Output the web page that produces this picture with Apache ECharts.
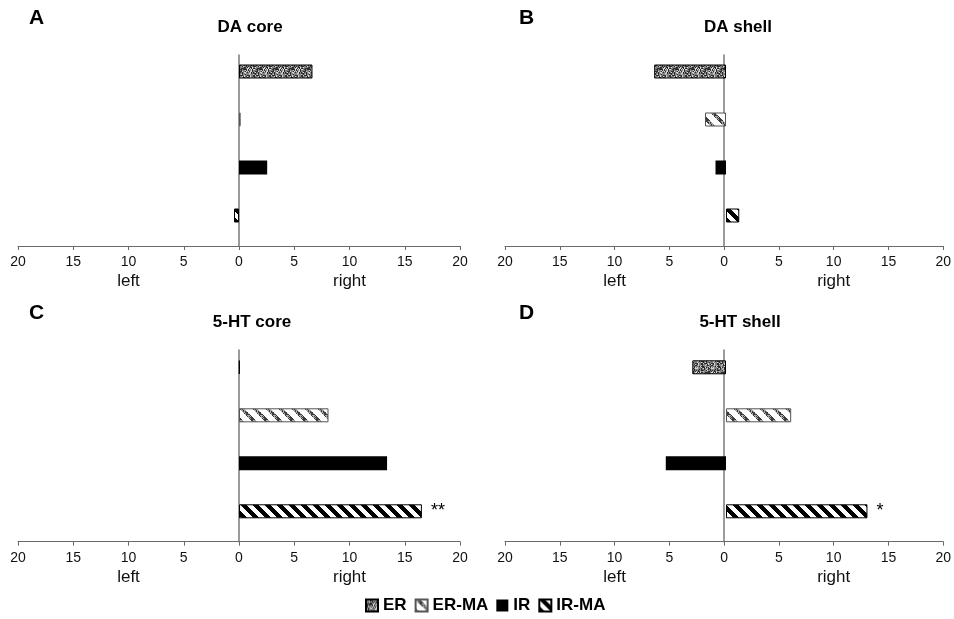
<!DOCTYPE html>
<html><head><meta charset="utf-8">
<script src="https://cdn.jsdelivr.net/npm/echarts@6/dist/echarts.min.js"></script>
<style>html,body{margin:0;padding:0;background:#fff}#c{width:954px;height:619px}</style>
</head><body><div id="c"></div>
<script>
const categories = ['ER', 'ER-MA', 'IR', 'IR-MA'];
const panelTitles = ['DA core', 'DA shell', '5-HT core', '5-HT shell'];
const panelLetters = ['A', 'B', 'C', 'D'];
const daCore = [6.65, 0.15, 2.55, -0.45];
const daShell = [-6.5, -1.9, -0.95, 1.2];
const htCore = [0.06, 8.1, 13.4, 16.55];
const htShell = [-3.05, 5.9, -5.45, 12.8];
const significance = [['', '', '', ''], ['', '', '', ''], ['', '', '', '**'], ['', '', '', '*']];
const axisMin = -20, axisMax = 20, axisStep = 5;
const sideLabels = { '-10': 'left', '10': 'right' };
const panelValues = [daCore, daShell, htCore, htShell];

function hash(x, y) {
  let h = Math.imul(x + 17, 374761393) ^ Math.imul(y + 31, 668265263);
  h = Math.imul(h ^ (h >>> 13), 1274126177);
  return ((h ^ (h >>> 16)) >>> 0) % 100;
}
function makePattern(size, fn) {
  const c = document.createElement('canvas');
  c.width = c.height = size;
  const ctx = c.getContext('2d');
  const img = ctx.createImageData(size, size);
  for (let y = 0; y < size; y++) for (let x = 0; x < size; x++) {
    const v = fn(x, y), i = (y * size + x) * 4;
    img.data[i] = img.data[i + 1] = img.data[i + 2] = v; img.data[i + 3] = 255;
  }
  ctx.putImageData(img, 0, 0);
  return c;
}
const stipple = makePattern(16, (x, y) => { const h = hash(x, y); return h < 35 ? 45 : (h < 75 ? 130 : 210); });
const hatch = makePattern(13, (x, y) => { const d = ((x - y) % 13 + 13) % 13; if (d < 5) { return hash(x, y) < 50 ? 60 : 170; } return 255; });
const stripes = makePattern(12, (x, y) => { const d = ((x - y) % 12 + 12) % 12; return d < 6 ? 0 : 255; });

const itemStyles = [
  { color: { image: stipple, repeat: 'repeat' }, borderColor: '#000', borderWidth: 1 },
  { color: { image: hatch, repeat: 'repeat' }, borderColor: '#555', borderWidth: 1 },
  { color: '#000', borderColor: '#000', borderWidth: 0 },
  { color: { image: stripes, repeat: 'repeat' }, borderColor: '#000', borderWidth: 1 }
];

// layout per panel
const layout = [
  { left: 18, right: 494, axisTop: 55, axisBottom: 619 - 246, barTop: 47.5, barBottom: 619 - 239.5, titleX: 250, titleY: 18.5, letterX: 29, letterY: 8 },
  { left: 505, right: 7, axisTop: 55, axisBottom: 619 - 246, barTop: 47.5, barBottom: 619 - 239.5, titleX: 738, titleY: 18.5, letterX: 519, letterY: 8 },
  { left: 18, right: 494, axisTop: 350, axisBottom: 619 - 541.7, barTop: 343.3, barBottom: 619 - 535.3, titleX: 252, titleY: 314, letterX: 29, letterY: 303 },
  { left: 505, right: 7, axisTop: 350, axisBottom: 619 - 541.7, barTop: 343.3, barBottom: 619 - 535.3, titleX: 740, titleY: 314, letterX: 519, letterY: 303 }
];

const grid = [], xAxis = [], yAxis = [], series = [], title = [];
layout.forEach((L, p) => {
  grid.push({ left: L.left, right: L.right, top: L.barTop, bottom: L.barBottom });
  grid.push({ left: L.left, right: L.right, top: L.axisTop, bottom: L.axisBottom });
  xAxis.push({ type: 'value', gridIndex: 2 * p, min: axisMin, max: axisMax, interval: axisStep, show: false });
  yAxis.push({ type: 'category', gridIndex: 2 * p, data: categories, inverse: true, show: false });
  xAxis.push({
    type: 'value', gridIndex: 2 * p + 1, min: axisMin, max: axisMax, interval: axisStep, position: 'bottom',
    axisLine: { show: true, lineStyle: { color: '#6a6a6a', width: 1 } },
    axisTick: { show: true, length: 4, lineStyle: { color: '#6a6a6a' } },
    splitLine: { show: false },
    axisLabel: { margin: 9, fontSize: 14, fontFamily: 'Liberation Sans', color: '#111', formatter: v => String(Math.abs(v)) }
  });
  xAxis.push({
    type: 'value', gridIndex: 2 * p + 1, min: axisMin, max: axisMax, interval: 10, position: 'bottom', offset: 0,
    axisLine: { show: false }, axisTick: { show: false }, splitLine: { show: false },
    axisLabel: { margin: 27, fontSize: 17, fontFamily: 'Liberation Sans', color: '#111', formatter: v => sideLabels[String(v)] || '' }
  });
  yAxis.push({
    type: 'category', gridIndex: 2 * p + 1, data: categories, inverse: true,
    axisLine: { show: true, onZero: true, lineStyle: { color: '#7a7a7a', width: 1.5 } },
    axisTick: { show: false }, axisLabel: { show: false }, splitLine: { show: false }
  });
  categories.forEach((c, k) => {
    const sig = significance[p][k];
    series.push({
      type: 'bar', name: c, xAxisIndex: 3 * p, yAxisIndex: 2 * p,
      data: categories.map((_, j) => j === k ? panelValues[p][k] : '-'),
      barWidth: 14, barGap: '-100%', itemStyle: itemStyles[k],
      label: { show: !!sig, position: 'right', distance: 9, formatter: sig || '', fontSize: 18, fontFamily: 'Liberation Sans', color: '#000' },
      silent: true, animation: false
    });
  });
  title.push({ text: panelTitles[p], left: L.titleX, top: L.titleY, textAlign: 'center', padding: 0,
    textStyle: { fontSize: 17, fontWeight: 'bold', fontFamily: 'Liberation Sans', color: '#000' } });
  title.push({ text: panelLetters[p], left: L.letterX, top: L.letterY, padding: 0,
    textStyle: { fontSize: 21, fontWeight: 'bold', fontFamily: 'Liberation Sans', color: '#000' } });
});

const chart = echarts.init(document.getElementById('c'), null, { renderer: 'canvas' });
chart.setOption({
  animation: false,
  backgroundColor: '#fff',
  title, grid, xAxis, yAxis, series,
  legend: {
    data: categories, left: 365, top: 597, padding: 0, icon: 'rect', itemWidth: 12, itemHeight: 12, itemGap: 8,
    textStyle: { fontSize: 17, fontWeight: 'bold', fontFamily: 'Liberation Sans', color: '#000' }
  }
});
</script></body></html>
